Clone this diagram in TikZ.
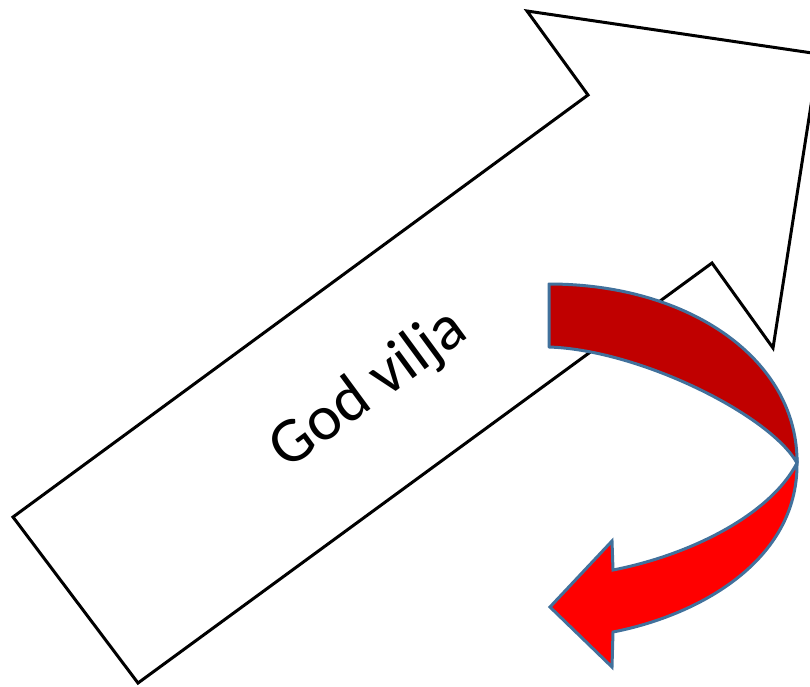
\documentclass[tikz,border=0pt]{standalone}
\usepackage{fontspec}
\setmainfont{Carlito}
\definecolor{darkred}{HTML}{C00000}
\definecolor{brightred}{HTML}{FF0000}
\definecolor{edgeblue}{HTML}{41719C}
\tikzset{
  bigarrow/.style={draw=black, line width=3pt, line join=miter, fill=white},
  backband/.style={draw=edgeblue, line width=3pt, line join=round, fill=darkred},
  frontband/.style={draw=edgeblue, line width=3pt, line join=miter, fill=brightred},
  label/.style={font=\fontsize{64}{72}\selectfont, rotate=36.3, inner sep=0pt}
}
\begin{document}
\begin{tikzpicture}[x=1pt,y=-1pt]
\useasboundingbox (0,0) rectangle (810,686);
\clip (0,0) rectangle (810,686);
% big arrow
\coordinate (tailtop) at (13,517);
\coordinate (tailbot) at (138,683);
\coordinate (notchlow) at (712,263);
\coordinate (barblow) at (773,348);
\coordinate (tip) at (819,54);
\coordinate (barbtop) at (527,11);
\coordinate (notchtop) at (588,95);
\draw[bigarrow] (tailtop) -- (tailbot) -- (notchlow) -- (barblow) -- (tip) -- (barbtop) -- (notchtop) -- cycle;
% text
\node[label] (txt) at (369,390) {God vilja};
% curved red arrow: back band
\coordinate (bstart) at (549,284);
\coordinate (bstartlow) at (549,347);
\coordinate (join) at (797,463);
\draw[backband] (bstart) .. controls (690,284) and (798,360) .. (join)
  .. controls (770,415) and (640,350) .. (bstartlow) -- cycle;
% front band with head
\coordinate (hlowin) at (613,632);
\coordinate (hlowbarb) at (612,667);
\coordinate (htip) at (550,607);
\coordinate (hupbarb) at (612,541);
\coordinate (hupin) at (613,570);
\draw[frontband] (join) .. controls (798,560) and (700,615) .. (hlowin)
  -- (hlowbarb) -- (htip) -- (hupbarb) -- (hupin)
  .. controls (690,555) and (770,515) .. (join) -- cycle;
\end{tikzpicture}
\end{document}
